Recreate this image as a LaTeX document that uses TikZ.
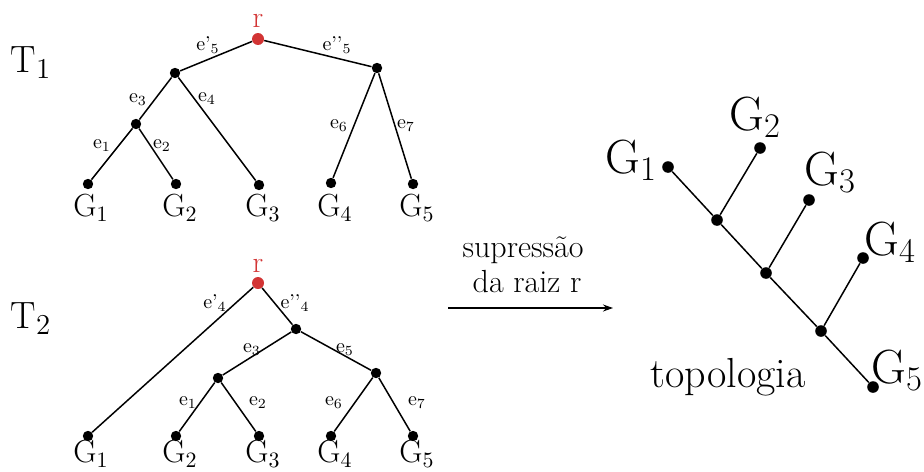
\documentclass[tikz,border=0pt]{standalone}
\usepackage{tikz}
\usetikzlibrary{arrows.meta}
\usepackage{xcolor}
\definecolor{rootred}{RGB}{210, 52, 52}

\begin{document}
\begin{tikzpicture}[
    x=0.5pt, y=-0.5pt,
    dot/.style={circle, fill=black, inner sep=0pt, minimum size=5.2pt},
    bigdot/.style={circle, fill=black, inner sep=0pt, minimum size=5.8pt},
    rootdot/.style={circle, fill=rootred, inner sep=0pt, minimum size=6pt},
    edge/.style={line width=0.75pt},
    elabel/.style={anchor=base, inner sep=0pt, font=\fontsize{10}{11}\selectfont},
    leaf/.style={anchor=base, inner sep=0pt, font=\fontsize{16}{18}\selectfont},
    bigleaf/.style={anchor=base, inner sep=0pt, font=\fontsize{24}{26}\selectfont},
    treename/.style={anchor=base, inner sep=0pt, font=\fontsize{19}{21}\selectfont},
    rootname/.style={anchor=base, inner sep=0pt, text=rootred, font=\fontsize{15}{17}\selectfont},
    caption/.style={anchor=base, inner sep=0pt, font=\fontsize{16}{18}\selectfont},
    arrow/.style={-{Stealth[length=5pt, width=3.5pt]}, line width=0.6pt}
]
\useasboundingbox (0,0) rectangle (924,471);

% arvore T1
\node[treename] (t1) at (31,72) {T$_1$};
\node[rootdot] (r1) at (258,39) {};
\node[rootname] (r1name) at (258,27) {r};
\node[dot] (a1) at (175,73) {};
\node[dot] (b1) at (377,68) {};
\node[dot] (c1) at (136,124) {};
\node[dot] (g11) at (88,184) {};
\node[dot] (g12) at (176,184) {};
\node[dot] (g13) at (259,185) {};
\node[dot] (g14) at (331,183) {};
\node[dot] (g15) at (413,184) {};
\node[leaf] (l11) at (91,216) {G$_1$};
\node[leaf] (l12) at (180,216) {G$_2$};
\node[leaf] (l13) at (263,216) {G$_3$};
\node[leaf] (l14) at (335,216) {G$_4$};
\node[leaf] (l15) at (417,216) {G$_5$};

\draw[edge] (r1) -- (a1);
\draw[edge] (r1) -- (b1);
\draw[edge] (a1) -- (c1);
\draw[edge] (a1) -- (g13);
\draw[edge] (c1) -- (g11);
\draw[edge] (c1) -- (g12);
\draw[edge] (b1) -- (g14);
\draw[edge] (b1) -- (g15);

\node[elabel] (e15a) at (208,50) {e'$_5$};
\node[elabel] (e15b) at (337,50) {e'{}'$_5$};
\node[elabel] (e13) at (138,102) {e$_3$};
\node[elabel] (e14) at (207,101) {e$_4$};
\node[elabel] (e11) at (102,148) {e$_1$};
\node[elabel] (e12) at (162,148) {e$_2$};
\node[elabel] (e16) at (339,128) {e$_6$};
\node[elabel] (e17) at (406,128) {e$_7$};

% arvore T2
\node[treename] (t2) at (31,328) {T$_2$};
\node[rootdot] (r2) at (258,283) {};
\node[rootname] (r2name) at (258,272) {r};
\node[dot] (a2) at (296,329) {};
\node[dot] (b2) at (218,378) {};
\node[dot] (c2) at (376,373) {};
\node[dot] (g21) at (88,436) {};
\node[dot] (g22) at (176,436) {};
\node[dot] (g23) at (259,436) {};
\node[dot] (g24) at (331,436) {};
\node[dot] (g25) at (413,436) {};
\node[leaf] (l21) at (91,462) {G$_1$};
\node[leaf] (l22) at (180,462) {G$_2$};
\node[leaf] (l23) at (263,462) {G$_3$};
\node[leaf] (l24) at (335,462) {G$_4$};
\node[leaf] (l25) at (417,462) {G$_5$};

\draw[edge] (r2) -- (g21);
\draw[edge] (r2) -- (a2);
\draw[edge] (a2) -- (b2);
\draw[edge] (a2) -- (c2);
\draw[edge] (b2) -- (g22);
\draw[edge] (b2) -- (g23);
\draw[edge] (c2) -- (g24);
\draw[edge] (c2) -- (g25);

\node[elabel] (e24a) at (215,308) {e'$_4$};
\node[elabel] (e24b) at (295,308) {e'{}'$_4$};
\node[elabel] (e23) at (252,352) {e$_3$};
\node[elabel] (e25) at (345,352) {e$_5$};
\node[elabel] (e21) at (188,405) {e$_1$};
\node[elabel] (e22) at (258,405) {e$_2$};
\node[elabel] (e26) at (334,405) {e$_6$};
\node[elabel] (e27) at (417,405) {e$_7$};

% supressao da raiz
\coordinate (arrstart) at (448,308);
\coordinate (arrend) at (613,308);
\draw[arrow] (arrstart) -- (arrend);
\node[caption] (cap1) at (523,257) {supressão};
\node[caption] (cap2) at (527,292) {da raiz r};

% topologia
\node[bigdot] (tg1) at (668,167) {};
\node[bigdot] (tg2) at (760,148) {};
\node[bigdot] (tg3) at (809,200) {};
\node[bigdot] (tg4) at (863,258) {};
\node[bigdot] (tg5) at (873,387) {};
\node[bigdot] (n1) at (717,220) {};
\node[bigdot] (n2) at (766,273) {};
\node[bigdot] (n3) at (821,331) {};

\draw[edge] (tg1) -- (n1);
\draw[edge] (n1) -- (tg2);
\draw[edge] (n1) -- (n2);
\draw[edge] (n2) -- (tg3);
\draw[edge] (n2) -- (n3);
\draw[edge] (n3) -- (tg4);
\draw[edge] (n3) -- (tg5);

\node[bigleaf] (tl1) at (631,173) {G$_1$};
\node[bigleaf] (tl2) at (755,130) {G$_2$};
\node[bigleaf] (tl3) at (830,185) {G$_3$};
\node[bigleaf] (tl4) at (890,255) {G$_4$};
\node[bigleaf] (tl5) at (897,383) {G$_5$};
\node[caption, font=\fontsize{21}{23}\selectfont] (topo) at (728,387) {topologia};

\end{tikzpicture}
\end{document}
